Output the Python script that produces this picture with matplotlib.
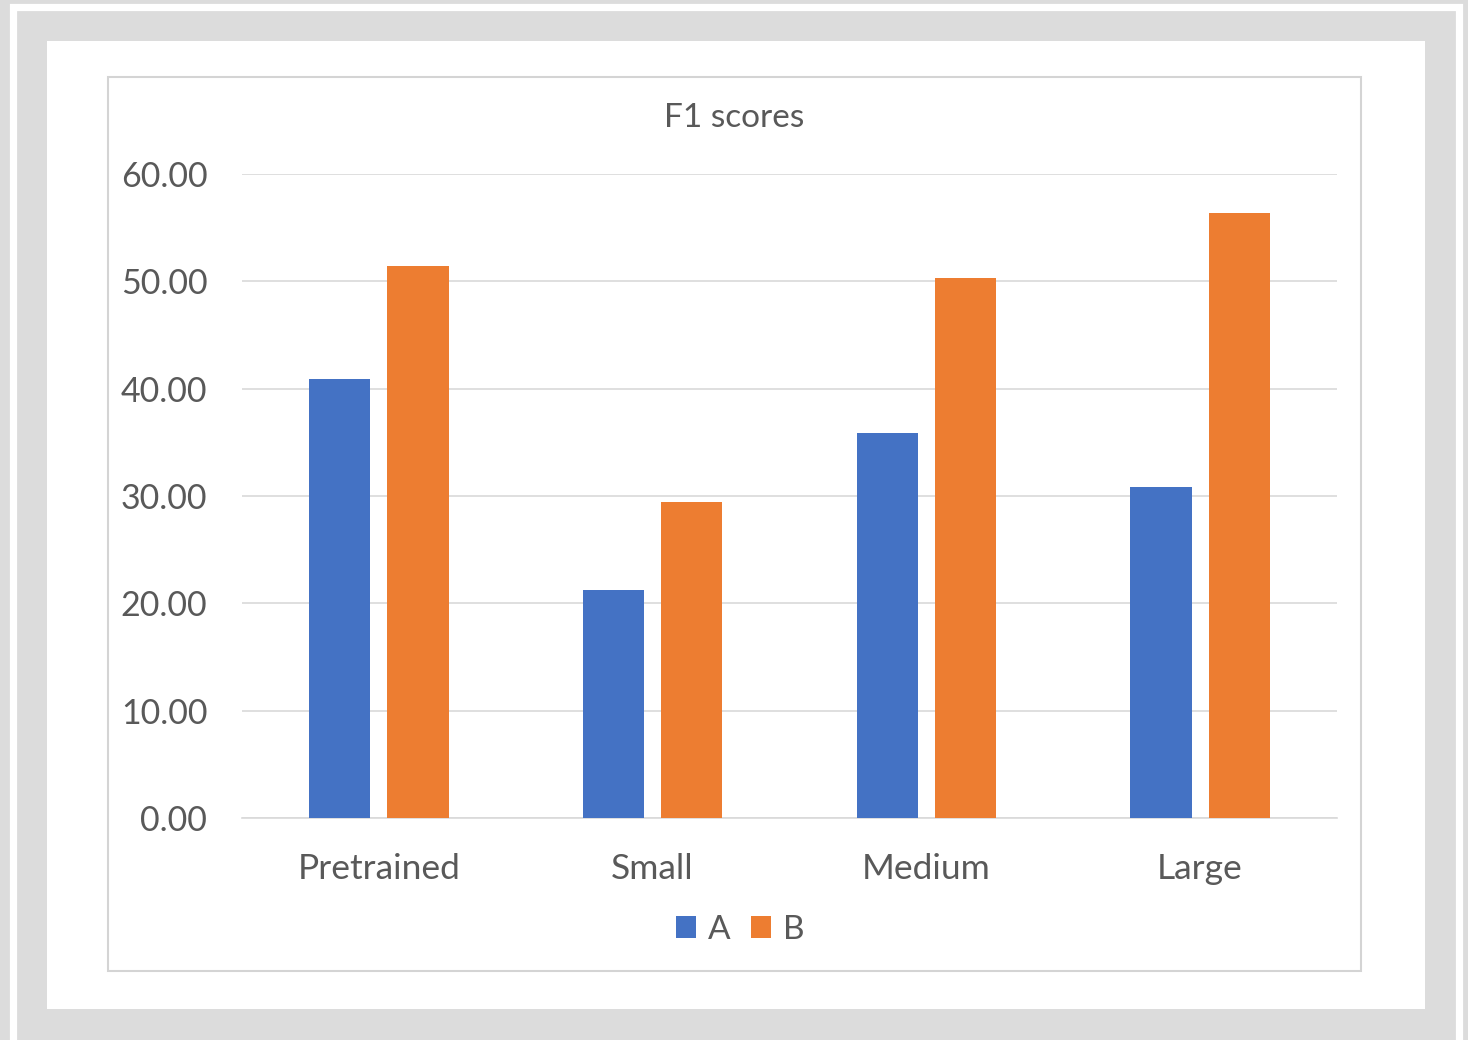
import numpy as np
import matplotlib
matplotlib.use("Agg")
import matplotlib.pyplot as plt
from matplotlib.patches import Rectangle, Patch

categories = ["Pretrained", "Small", "Medium", "Large"]
series_a = [40.9, 21.2, 35.9, 30.8]
series_b = [51.4, 29.4, 50.3, 56.4]
yticks = [0, 10, 20, 30, 40, 50, 60]

W, H = 1468, 1040
BLUE, ORANGE = "#4472C4", "#ED7D31"
TXT = "#595959"
plt.rcParams["font.family"] = ["Lato", "DejaVu Sans"]

fig = plt.figure(figsize=(W / 100, H / 100), dpi=100, facecolor="#dcdcdc")

def px_rect(x0, y0, x1, y1, **kw):
    # pixel box (top-left origin) -> figure fraction rectangle
    r = Rectangle((x0 / W, 1 - y1 / H), (x1 - x0) / W, (y1 - y0) / H,
                  transform=fig.transFigure, zorder=-10, **kw)
    fig.patches.append(r)

px_rect(12.5, 6.5, 1458.5, 1046, fill=False, edgecolor="white", lw=5.2)
px_rect(47, 41, 1425, 1009, facecolor="white", edgecolor="none")
px_rect(107.5, 77, 1361, 971, fill=False, edgecolor="#d4d4d4", lw=1.5)

ax = fig.add_axes([242 / W, 1 - 818 / H, (1337 - 242) / W, (818 - 174) / H])
ax.set_zorder(2)
ax.set_facecolor("none")
x = np.arange(len(categories))
wd = 0.223
off = 0.143
ax.bar(x - off, series_a, wd, color=BLUE, zorder=3)
ax.bar(x + off, series_b, wd, color=ORANGE, zorder=3)
ax.set_xlim(-0.5, len(categories) - 0.5)
ax.set_ylim(0, 60)
ax.set_yticks(yticks)
ax.set_yticklabels([f"{v:.2f}" for v in yticks])
ax.set_xticks(x)
ax.set_xticklabels(categories)
ax.grid(axis="y", color="#d9d9d9", lw=1.2, zorder=0)
for s in ["top", "right", "left"]:
    ax.spines[s].set_visible(False)
ax.spines["bottom"].set_color("#d9d9d9")
ax.spines["bottom"].set_linewidth(1.2)
ax.tick_params(axis="y", length=0, pad=25, labelsize=24.5, labelcolor=TXT)
ax.tick_params(axis="x", length=0, pad=25, labelsize=25.5, labelcolor=TXT)

fig.text(734 / W, 1 - 118 / H, "F1 scores", ha="center", va="center",
         fontsize=24, color=TXT)

handles = [Patch(facecolor=BLUE, edgecolor="none"), Patch(facecolor=ORANGE, edgecolor="none")]
fig.legend(handles, ["A", "B"], loc="center", bbox_to_anchor=(740 / W, 1 - 930 / H),
           ncol=2, frameon=False, fontsize=24, labelcolor=TXT,
           handlelength=0.62, handleheight=0.62, handletextpad=0.35, columnspacing=0.6)

fig.savefig("out.png", dpi=100, facecolor=fig.get_facecolor())
